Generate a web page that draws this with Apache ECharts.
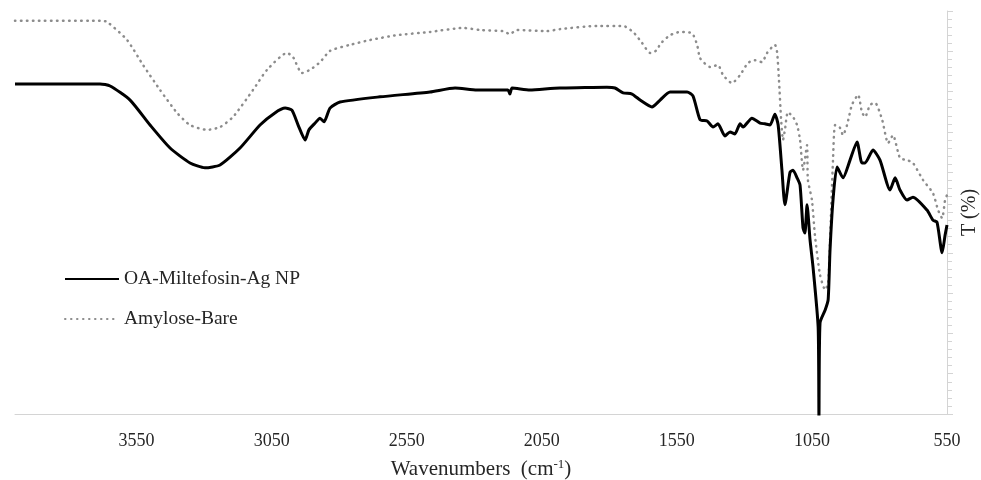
<!DOCTYPE html>
<html>
<head>
<meta charset="utf-8">
<script src="https://cdn.jsdelivr.net/npm/echarts@6/dist/echarts.min.js"></script>
<style>html,body{margin:0;padding:0;background:#fff;}#c{width:981px;height:480px;}</style>
</head>
<body>
<div id="c"></div>
<script>
// Series names
const seriesNames = ['OA-Miltefosin-Ag NP', 'Amylose-Bare'];

// OA-Miltefosin-Ag NP (solid black): wavenumber (cm-1) and transmittance (arb. %)
const npWn = [4000,3685,3648,3574,3500,3426,3352,3297,3241,3167,3093,3038,3000,2975,2952,2926,2912,2889,2871,2856,2834,2797,2649,2464,2371,2290,2194,2175,2168,2160,2094,1983,1972,1809,1779,1749,1716,1686,1642,1612,1575,1512,1490,1464,1438,1416,1398,1372,1353,1335,1316,1305,1272,1242,1224,1205,1187,1175,1161,1150,1131,1120,1105,1094,1083,1076,1068,1057,1046,1027,1024,1020,1001,990,983,972,957,935,909,883,865,853,824,798,761,742,724,698,676,624,602,587,568,557,550];
const npT  = [81.9,81.9,81.4,77.9,71.7,66.0,62.3,61.1,61.8,66.0,71.7,74.7,75.9,75.4,71.7,68.0,70.5,72.2,73.4,72.5,75.9,77.4,78.7,79.9,80.9,80.4,80.4,80.4,79.4,80.9,80.4,80.9,80.9,81.1,80.9,79.7,79.4,77.9,76.2,77.9,79.9,79.9,78.9,73.0,72.7,71.2,72.0,69.0,70.0,69.5,72.0,71.2,73.4,72.2,72.0,71.7,74.4,71.7,60.5,51.9,60.0,60.5,58.6,56.8,46.2,44.9,51.9,43.2,36.5,21.6,-1,22.6,25.8,28.3,40.7,53.1,61.3,58.6,63.0,67.5,62.3,62.3,65.5,63.0,55.6,58.6,55.6,53.1,53.8,50.6,48.1,47.6,40.0,44.4,46.9];

// Amylose-Bare (grey dotted)
const amWn = [4000,3685,3659,3585,3526,3463,3400,3352,3289,3241,3193,3119,3067,2993,2971,2938,2908,2871,2834,2760,2686,2586,2464,2342,2279,2194,2168,2142,2031,1983,1846,1749,1712,1679,1649,1623,1612,1575,1538,1494,1475,1464,1427,1398,1379,1346,1316,1287,1261,1235,1216,1187,1179,1172,1164,1157,1150,1139,1120,1105,1094,1083,1068,1065,1050,1039,1020,1001,990,983,972,964,946,935,920,902,879,865,853,835,816,790,768,750,724,698,676,639,602,583,568,557,550];
const amT  = [97.6,97.6,97.3,92.8,86.6,80.4,74.7,71.7,70.5,71.2,73.7,80.4,85.4,89.6,88.6,84.6,85.4,87.3,90.1,91.6,92.8,94.0,94.8,95.8,95.3,95.0,94.3,95.3,95.0,95.5,96.3,96.3,94.8,92.1,89.6,90.3,91.8,94.0,94.8,94.5,91.6,88.3,86.1,86.6,84.1,82.1,84.1,87.1,87.8,87.3,89.6,91.6,89.8,82.9,73.0,68.0,70.5,74.9,73.7,71.7,68.0,60.5,66.7,58.1,53.1,44.4,34.5,30.8,32.5,43.2,63.0,71.7,71.0,69.2,71.7,76.7,79.2,74.9,73.7,76.7,77.2,73.0,67.2,69.2,63.5,63.0,62.3,58.1,54.8,50.6,48.6,53.1,54.3];

// Axis tick labels shown
const xTickLabels = [3550, 3050, 2550, 2050, 1550, 1050, 550];

const zip = (a, b) => a.map((v, i) => [v, b[i]]);
const serif = '"Liberation Serif", "Times New Roman", serif';
const axisGray = '#d4d4d4';

const chart = echarts.init(document.getElementById('c'), null, {renderer: 'canvas'});
chart.setOption({
  animation: false,
  backgroundColor: '#fff',
  grid: {left: 15, right: 34, top: 11, bottom: 66, containLabel: false, outerBoundsMode: 'none'},
  legend: {
    orient: 'vertical',
    left: 59,
    top: 264,
    itemWidth: 54,
    itemHeight: 14,
    itemGap: 20,
    data: seriesNames,
    itemStyle: {opacity: 0},
    textStyle: {fontFamily: serif, fontSize: 19.5, color: '#262626'},
    selectedMode: false
  },
  xAxis: {
    type: 'value',
    inverse: true,
    min: 550,
    max: 4000,
    interval: 50,
    axisLine: {show: true, lineStyle: {color: axisGray, width: 1}},
    axisTick: {show: false},
    splitLine: {show: false},
    axisLabel: {
      fontFamily: serif, fontSize: 18, color: '#262626', margin: 18,
      showMaxLabel: false,
      formatter: v => (xTickLabels.indexOf(v) >= 0 ? String(v) : '')
    },
    name: '{a|Wavenumbers  (cm}{s|-1}{a|)}',
    nameLocation: 'middle',
    nameGap: 44,
    nameTextStyle: {
      rich: {
        a: {fontFamily: serif, fontSize: 21, color: '#262626'},
        s: {fontFamily: serif, fontSize: 13, color: '#262626', padding: [0, 0, 9, 0]}
      }
    }
  },
  yAxis: {
    type: 'value',
    position: 'right',
    min: 0,
    max: 100,
    interval: 10,
    axisLine: {show: true, lineStyle: {color: axisGray, width: 1}},
    axisTick: {show: true, inside: false, length: 6, lineStyle: {color: axisGray}},
    minorTick: {show: true, splitNumber: 5, length: 5, lineStyle: {color: axisGray}},
    axisLabel: {show: false},
    splitLine: {show: false},
    name: 'T (%)',
    nameLocation: 'middle',
    nameRotate: 90,
    nameGap: 13,
    nameTextStyle: {fontFamily: serif, fontSize: 20, color: '#262626', verticalAlign: 'top'}
  },
  series: [
    {
      name: seriesNames[0],
      type: 'line',
      data: zip(npWn, npT),
      symbol: 'none',
      smooth: 0.2,
      clip: true,
      z: 3,
      lineStyle: {color: '#000000', width: 3},
      itemStyle: {color: '#000000'}
    },
    {
      name: seriesNames[1],
      type: 'line',
      data: zip(amWn, amT),
      symbol: 'none',
      smooth: 0.2,
      clip: true,
      z: 2,
      lineStyle: {color: '#8c8c8c', width: 2.5, type: [0.5, 5.5], cap: 'round'},
      itemStyle: {color: '#8c8c8c'}
    }
  ]
});
</script>
</body>
</html>
